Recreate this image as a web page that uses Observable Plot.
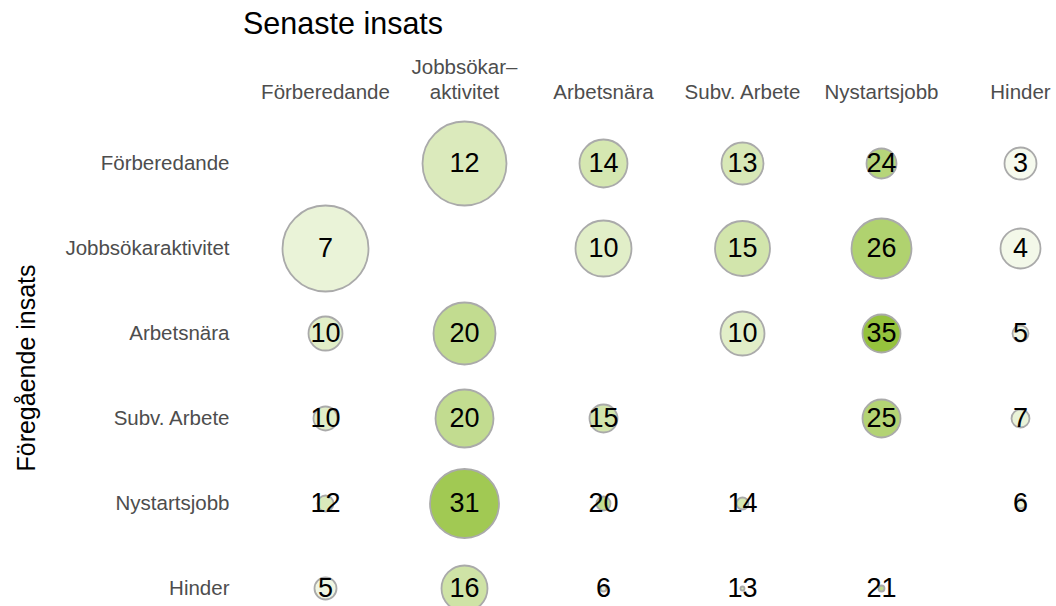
<!DOCTYPE html>
<html><head><meta charset="utf-8">
<script src="https://cdn.jsdelivr.net/npm/d3@7"></script>
<script src="https://cdn.jsdelivr.net/npm/@observablehq/plot@0.6"></script>
<style>
body{margin:0;background:#fff;font-family:"Liberation Sans",Arial,sans-serif;}
#title{height:50px;position:relative;}
#title span{position:absolute;left:243px;top:8px;font-size:30.5px;line-height:30px;color:#000;white-space:nowrap;}
</style></head><body>
<div id="title"><span>Senaste insats</span></div>
<div id="chart"></div>
<script>
// Insatser (rows = föregående, columns = senaste)
const categories = ["Förberedande", "Jobbsökaraktivitet", "Arbetsnära", "Subv. Arbete", "Nystartsjobb", "Hinder"];
const columnLabels = ["Förberedande", "Jobbsökar–\naktivitet", "Arbetsnära", "Subv. Arbete", "Nystartsjobb", "Hinder"];
// Andel (label, colour)
const andel = [
  [null, 12, 14, 13, 24, 3],
  [7, null, 10, 15, 26, 4],
  [10, 20, null, 10, 35, 5],
  [10, 20, 15, null, 25, 7],
  [12, 31, 20, 14, null, 6],
  [5, 16, 6, 13, 21, null]
];
// Antal (circle size, estimated)
const antal = [
  [null, 1764, 576, 441, 225, 256],
  [1849, null, 784, 756, 900, 400],
  [289, 961, null, 484, 361, 64],
  [144, 841, 196, null, 361, 81],
  [64, 1190, 49, 36, null, 25],
  [121, 529, 9, 4, 9, null]
];

const rows = [];
categories.forEach((from, i) => categories.forEach((to, j) => {
  if (andel[i][j] != null) rows.push({from, to, andel: andel[i][j], antal: antal[i][j]});
}));

const font = '"Liberation Sans", Arial, sans-serif';
const chart = Plot.plot({
  width: 1056, height: 556,
  marginTop: 50, marginLeft: 235, marginRight: 0, marginBottom: 0,
  style: {fontFamily: font, background: "white"},
  x: {type: "point", domain: categories, range: [325, 1020], padding: 0},
  y: {type: "point", domain: categories, range: [112, 538], padding: 0},
  r: {type: "sqrt", domain: [0, 1849], range: [0, 43]},
  color: {type: "linear", domain: [0, 35], range: ["#ffffff", "#95c23d"]},
  marks: [
    Plot.axisX({anchor: "top", tickSize: 0, tickPadding: 2, fontSize: 20.5, fill: "#4d4d4d", lineHeight: 1.2, label: null,
      tickFormat: d => columnLabels[categories.indexOf(d)]}),
    Plot.axisY({anchor: "left", tickSize: 0, tickPadding: 6, fontSize: 20.5, fill: "#4d4d4d", label: null}),
    Plot.text(["Föregående insats"], {frameAnchor: "left", rotate: -90, dx: -218, dy: 14.5, fontSize: 25,
      lineAnchor: "top", textAnchor: "middle", fill: "black"}),
    Plot.dot(rows, {x: "to", y: "from", r: "antal", fill: "andel", stroke: "#aaaaaa", strokeWidth: 1.8}),
    Plot.text(rows, {x: "to", y: "from", text: "andel", fontSize: 27, fill: "black"})
  ]
});
document.getElementById("chart").appendChild(chart);
</script>
</body></html>
